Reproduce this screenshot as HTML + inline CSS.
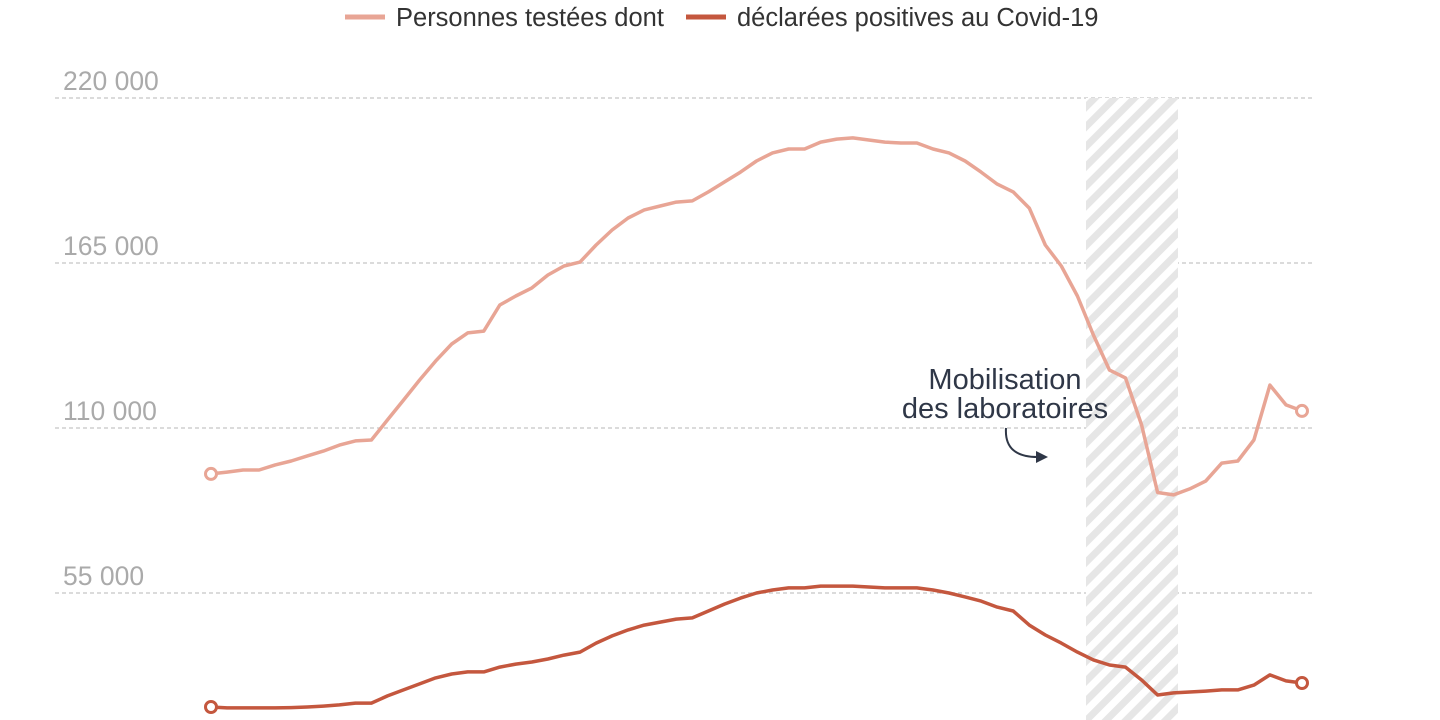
<!DOCTYPE html>
<html><head><meta charset="utf-8"><style>
html,body{margin:0;padding:0;background:#fff;}
svg{display:block;font-family:"Liberation Sans",sans-serif;}
</style></head><body>
<svg id="chart" width="1440" height="720" viewBox="0 0 1440 720">
<defs>
<pattern id="hatch" width="14" height="14" patternUnits="userSpaceOnUse" patternTransform="rotate(45)">
<rect width="14" height="14" fill="#fff"/><rect width="7" height="14" fill="#e6e6e6"/>
</pattern>
</defs>
<g id="grid"></g>
<rect x="1086" y="98" width="92" height="622" fill="url(#hatch)"/>
<g id="series"></g>
<g>
<g>
<line x1="345" y1="17" x2="385" y2="17" stroke="#e8a595" stroke-width="5"/>
<text x="396" y="26" font-size="25.5" fill="#333">Personnes testées dont</text></g>
<g>
<line x1="686" y1="17" x2="726" y2="17" stroke="#c4573e" stroke-width="5"/>
<text x="737" y="26" font-size="25.5" fill="#333">déclarées positives au Covid-19</text></g>
</g>
<g>
<text x="1005" y="389" font-size="29" fill="#2f3747" text-anchor="middle">Mobilisation</text>
<text x="1005" y="418" font-size="29" fill="#2f3747" text-anchor="middle">des laboratoires</text>
<path d="M1006 428 Q1004 458 1040 457" fill="none" stroke="#2f3747" stroke-width="2"/>
<path d="M1048 457 L1036 451 L1036 463 Z" fill="#2f3747"/>
</g>
</svg>
<script>
const ticks=[220000,165000,110000,55000];
const tickLabels=["220 000","165 000","110 000","55 000"];
const tested=[94.7,95.3,96,96,97.7,99,100.7,102.3,104.3,105.7,106,112.7,119.3,126,132.3,138,141.7,142.3,151,154,156.7,161,164,165.3,171,176,180,182.7,184,185.3,185.7,188.7,192,195.3,199,201.7,203,203,205.3,206.3,206.7,206,205.3,205,205,203,201.7,199,195.3,191.3,188.7,183.3,171,164,154,141,129.3,126.7,111,88.5,87.7,89.7,92.3,98.3,99,106,124.3,117.7,115.7];
const positive=[17,16.7,16.7,16.7,16.7,16.8,17,17.3,17.7,18.3,18.3,20.7,22.7,24.7,26.7,28,28.7,28.7,30.3,31.3,32,33,34.3,35.3,38.3,40.7,42.7,44.3,45.3,46.3,46.7,49,51.3,53.3,55,56,56.7,56.7,57.3,57.3,57.3,57,56.7,56.7,56.7,56,55,53.7,52.3,50.3,49,44.3,41,38.3,35.3,32.7,31,30.3,26,21,21.7,22,22.3,22.7,22.7,24.3,27.7,25.7,25];
const NS="http://www.w3.org/2000/svg";
const x0=211,x1=1302;
const xs=i=>x0+(x1-x0)*i/(tested.length-1);
const ys=v=>758-v*0.003;
const grid=document.getElementById('grid');
ticks.forEach((t,i)=>{
 const l=document.createElementNS(NS,'line');
 l.setAttribute('x1',55);l.setAttribute('x2',1315);
 l.setAttribute('y1',ys(t));l.setAttribute('y2',ys(t));
 l.setAttribute('stroke','#cfcfcf');l.setAttribute('stroke-width','1.5');l.setAttribute('stroke-dasharray','4 3');
 
 
 grid.appendChild(l);
 const tx=document.createElementNS(NS,'text');
 tx.setAttribute('x',63);tx.setAttribute('y',ys(t)-8);
 tx.setAttribute('font-size','26.5');tx.setAttribute('fill','#aaaaaa');
 tx.textContent=tickLabels[i];
 
 
 grid.appendChild(tx);
});
const g=document.getElementById('series');
function draw(arr,color,name){
 const p=document.createElementNS(NS,'path');
 p.setAttribute('d',arr.map((v,i)=>(i?'L':'M')+xs(i).toFixed(1)+' '+ys(v*1000).toFixed(1)).join(' '));
 p.setAttribute('fill','none');p.setAttribute('stroke',color);p.setAttribute('stroke-width','3.5');p.setAttribute('stroke-linejoin','round');
 
 
 g.appendChild(p);
 [0,arr.length-1].forEach(i=>{
  const c=document.createElementNS(NS,'circle');
  c.setAttribute('cx',xs(i));c.setAttribute('cy',ys(arr[i]*1000));c.setAttribute('r','5.5');
  c.setAttribute('fill','#fff');c.setAttribute('stroke',color);c.setAttribute('stroke-width','3');
  
  
  g.appendChild(c);
 });
}
draw(tested,'#e8a595','tested');
draw(positive,'#c4573e','positive');
</script>
</body></html>
